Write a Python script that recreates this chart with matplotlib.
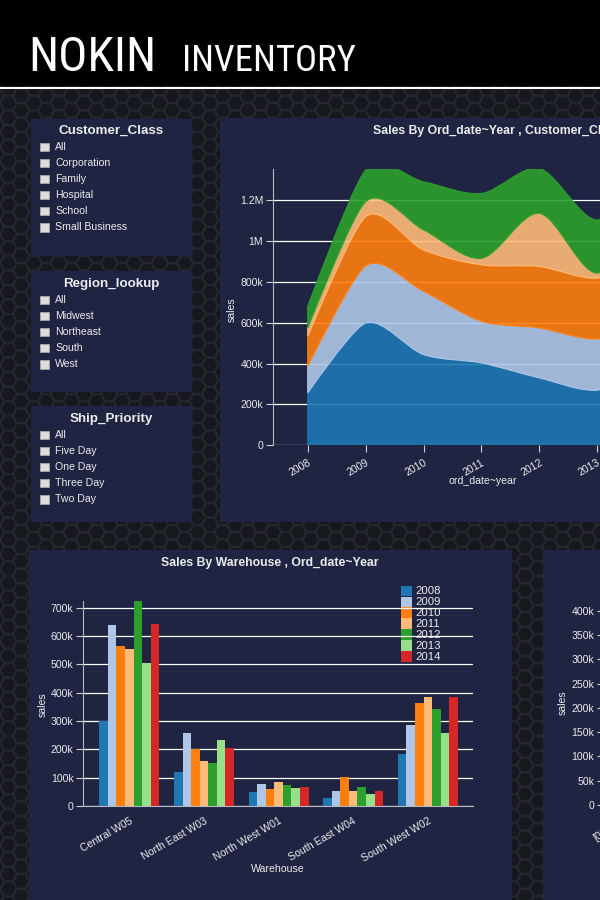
import numpy as np
import matplotlib
matplotlib.use("Agg")
import matplotlib.pyplot as plt
from matplotlib.patches import Rectangle, PathPatch
from matplotlib.path import Path
from matplotlib.collections import PolyCollection
from matplotlib import font_manager as fm
from matplotlib.ticker import FuncFormatter, FixedLocator

# ------------------------------------------------------------------ data
years = [2008, 2009, 2010, 2011, 2012, 2013, 2014]

customer_classes = ["Corporation", "Family", "Hospital", "School", "Small Business"]
# sales per year (thousands) by customer class, stacked area chart
sales_corporation = [257, 598, 444, 403, 330, 270, 380]
sales_family = [130, 280, 309, 204, 244, 250, 220]
sales_hospital = [146, 241, 203, 276, 301, 298, 320]
sales_school = [41, 73, 98, 32, 260, 24, 230]
sales_small_business = [106, 154, 235, 317, 219, 260, 203]

warehouses = ["Central W05", "North East W03", "North West W01",
              "South East W04", "South West W02"]
# sales per warehouse (thousands), one list per year
wh_2008 = [300, 121, 49, 29, 185]
wh_2009 = [639, 259, 78, 54, 286]
wh_2010 = [565, 200, 61, 104, 365]
wh_2011 = [553, 159, 86, 54, 385]
wh_2012 = [724, 153, 74, 68, 344]
wh_2013 = [504, 233, 65, 42, 259]
wh_2014 = [642, 204, 68, 53, 386]

filter_customer_class = ["All", "Corporation", "Family", "Hospital", "School", "Small Business"]
filter_region = ["All", "Midwest", "Northeast", "South", "West"]
filter_ship_priority = ["All", "Five Day", "One Day", "Three Day", "Two Day"]

area_ticks = [0, 200000, 400000, 600000, 800000, 1000000, 1200000]
bar_ticks = [0, 100000, 200000, 300000, 400000, 500000, 600000, 700000]
right_ticks = [0, 50000, 100000, 150000, 200000, 250000, 300000, 350000, 400000]

palette = ["#1f77b4", "#aec7e8", "#ff7f0e", "#ffbb78", "#2ca02c", "#98df8a", "#d62728"]

# ------------------------------------------------------------------ setup
W, H = 600, 900
plt.rcParams['font.family'] = ['Liberation Sans', 'DejaVu Sans']
fig = plt.figure(figsize=(W / 100, H / 100), dpi=100)
fig.patch.set_facecolor("#18191f")

TXT = "#ececec"
PANEL = "#1e2442"


def rect(l, t, r, b):
    return [l / W, 1 - b / H, (r - l) / W, (b - t) / H]


def pick_condensed():
    best = None
    for f in fm.fontManager.ttflist:
        nm = f.name
        st = str(f.stretch)
        cond = ("Condensed" in nm or "Narrow" in nm or "condensed" in st)
        if not cond or f.style != "normal":
            continue
        w = f.weight if isinstance(f.weight, int) else {"normal": 400, "regular": 400, "bold": 700,
                                                        "light": 300, "medium": 500}.get(str(f.weight), 400)
        score = 0
        if "Roboto" in nm:
            score += 30
        elif "Open Sans" in nm:
            score += 20
        elif "Narrow" in nm:
            score += 15
        score -= abs(w - 450) / 50
        if best is None or score > best[0]:
            best = (score, f.fname)
    if best:
        return fm.FontProperties(fname=best[1])
    return fm.FontProperties(family="DejaVu Sans")


# background axes in pixel coordinates
bg = fig.add_axes([0, 0, 1, 1], zorder=-5)
bg.set_xlim(0, W)
bg.set_ylim(H, 0)
bg.axis("off")

# honeycomb texture
r = 8.4
hexes = []
ang = np.deg2rad(np.arange(0, 360, 60))
dx = 1.5 * r
dy = np.sqrt(3) * r
for ci in range(int(W / dx) + 3):
    cx = ci * dx - 4
    off = (dy / 2) if ci % 2 else 0
    for ri in range(int(H / dy) + 3):
        cy = ri * dy + off - 6
        hexes.append(np.column_stack([cx + r * np.cos(ang), cy + r * np.sin(ang)]))
bg.add_collection(PolyCollection(hexes, facecolor="#17181d", edgecolor="#25272f", linewidth=1.6))

# header
bg.add_patch(Rectangle((0, 0), W, 86, facecolor="black", edgecolor="none", zorder=3))
bg.add_patch(Rectangle((0, 86.5), W, 2.5, facecolor="white", edgecolor="none", zorder=3))
cf = pick_condensed()
bg.text(28, 71, "NOKIN", fontproperties=cf, fontsize=35, color="white", va="baseline", ha="left", zorder=4)
bg.text(182, 71, "INVENTORY", fontproperties=cf, fontsize=26.5, color="white", va="baseline", ha="left", zorder=4)

# panels
for (l, t, rr, b) in [(31, 119, 192, 256), (31, 271, 192, 392), (31, 406, 192, 522),
                      (220, 118, 620, 522), (29, 550, 512, 920), (543, 550, 620, 920)]:
    bg.add_patch(Rectangle((l, t), rr - l, b - t, facecolor=PANEL, edgecolor="none", zorder=2))

# filter boxes
for title, items, ty in [("Customer_Class", filter_customer_class, 131),
                         ("Region_lookup", filter_region, 284),
                         ("Ship_Priority", filter_ship_priority, 419)]:
    bg.text(111, ty, title, fontsize=9.6, fontweight="bold", color=TXT, ha="center", va="center", zorder=4)
    for k, it in enumerate(items):
        yy = ty + 16 + k * 16.1
        bg.add_patch(Rectangle((40, yy - 4.5), 8.6, 8.6, facecolor="#dcdcdc", edgecolor="#a8a8a8",
                               linewidth=0.6, zorder=4))
        bg.text(55, yy, it, fontsize=7.6, color=TXT, ha="left", va="center", zorder=4)

# titles and labels
bg.text(373, 131, "Sales By Ord_date~Year , Customer_Class", fontsize=8.8, fontweight="bold",
        color=TXT, ha="left", va="center", zorder=4)
bg.text(483, 481, "ord_date~year", fontsize=7.6, color=TXT, ha="center", va="center", zorder=4)
bg.text(232, 310, "sales", fontsize=7.6, color=TXT, ha="center", va="center", rotation=90, zorder=4)
bg.text(270, 563, "Sales By Warehouse , Ord_date~Year", fontsize=8.8, fontweight="bold",
        color=TXT, ha="center", va="center", zorder=4)
bg.text(278, 869, "Warehouse", fontsize=7.6, color=TXT, ha="center", va="center", zorder=4)
bg.text(43, 705, "sales", fontsize=7.6, color=TXT, ha="center", va="center", rotation=90, zorder=4)
bg.text(563, 703, "sales", fontsize=7.6, color=TXT, ha="center", va="center", rotation=90, zorder=4)


def kfmt(v, pos=None):
    if v >= 1e6:
        return f"{v / 1e6:g}M"
    if v >= 1e3:
        return f"{v / 1e3:g}k"
    return "0"


def style_axes(ax):
    ax.set_facecolor("none")
    for s in ["top", "right"]:
        ax.spines[s].set_visible(False)
    ax.spines["left"].set_color("#b8b8c0")
    ax.spines["bottom"].set_color("#b8b8c0")
    ax.tick_params(colors="#d0d0d0", labelcolor=TXT, labelsize=7.6, length=5, width=0.8, pad=2)


def cardinal_segments(xs, ys, a=0.15):
    pts = np.column_stack([xs, ys]).astype(float)
    n = len(pts)
    t = [a * (pts[i + 1] - pts[i - 1]) for i in range(1, n - 1)]
    verts = [pts[0]]
    codes = [Path.MOVETO]
    verts += [pts[1] - t[0] * 2 / 3, pts[1]]
    codes += [Path.CURVE3, Path.CURVE3]
    for i in range(1, n - 2):
        verts += [pts[i] + t[i - 1], pts[i + 1] - t[i], pts[i + 1]]
        codes += [Path.CURVE4] * 3
    verts += [pts[n - 2] + t[-1] * 2 / 3, pts[n - 1]]
    codes += [Path.CURVE3, Path.CURVE3]
    return verts, codes


# ------------------------------------------------------------------ stacked area chart
px_per_year = 57.9
x0, x1 = 2007.4, 2014.4
ymax_a = 1354000
axA = fig.add_axes(rect(273, 445.3 - ymax_a / 1e6 * 204.4, 273 + (x1 - x0) * px_per_year, 445.3))
style_axes(axA)
axA.set_xlim(x0, x1)
axA.set_ylim(0, ymax_a)
axA.yaxis.set_major_locator(FixedLocator(area_ticks))
axA.yaxis.set_major_formatter(FuncFormatter(kfmt))
axA.set_xticks(years)
axA.set_xticklabels([str(y) for y in years], rotation=30, ha="right", rotation_mode="anchor")
axA.tick_params(axis="x", pad=4)
axA.spines["bottom"].set_visible(False)
axA.grid(axis="y", color="white", linewidth=0.9, zorder=0)
axA.set_axisbelow(True)

layers = [sales_corporation, sales_family, sales_hospital, sales_school, sales_small_business]
base = np.zeros(len(years))
xs = np.array(years, dtype=float)
for i, lay in enumerate(layers):
    top = base + np.array(lay) * 1000
    tv, tc = cardinal_segments(xs, top)
    bv, bc = cardinal_segments(xs[::-1], base[::-1])
    verts = tv + [bv[0]] + bv[1:] + [tv[0]]
    codes = tc + [Path.LINETO] + bc[1:] + [Path.CLOSEPOLY]
    col = matplotlib.colors.to_rgba(palette[i])
    axA.add_patch(PathPatch(Path(verts, codes), facecolor=(col[0], col[1], col[2], 0.9),
                            edgecolor=palette[i], linewidth=0.8, zorder=2))
    base = top

# ------------------------------------------------------------------ grouped bar chart
per_100k = 28.33
ymax_b = 724000
bx0, bx1 = -0.616, 4.605
axB = fig.add_axes(rect(83.3, 806 - ymax_b / 1e5 * per_100k, 473, 806))
style_axes(axB)
axB.set_xlim(bx0, bx1)
axB.set_ylim(0, ymax_b)
axB.yaxis.set_major_locator(FixedLocator(bar_ticks))
axB.yaxis.set_major_formatter(FuncFormatter(kfmt))
axB.grid(axis="y", color="white", linewidth=0.9, zorder=0)
axB.set_axisbelow(True)
gx = np.arange(len(warehouses))
axB.set_xticks(gx)
axB.set_xticklabels(warehouses, rotation=30, ha="right", rotation_mode="anchor")
axB.tick_params(axis="x", length=0, pad=7)
bw = 0.1147
series = [wh_2008, wh_2009, wh_2010, wh_2011, wh_2012, wh_2013, wh_2014]
for i, (yr, vals) in enumerate(zip(years, series)):
    axB.bar(gx + (i - 3) * bw, np.array(vals) * 1000, width=bw, color=palette[i],
            edgecolor="none", zorder=2, label=str(yr))

# legend (drawn from the series list)
for i, yr in enumerate(years):
    cy = 591 + i * 10.9
    bg.add_patch(Rectangle((401, cy - 5.4), 10.6, 10.6, facecolor=palette[i], edgecolor="none", zorder=6))
    bg.text(415.5, cy + 0.3, str(yr), fontsize=8.2, color=TXT, ha="left", va="center", zorder=7)

# ------------------------------------------------------------------ third chart (cropped)
ymax_r = 420000
axR = fig.add_axes(rect(604, 805 - ymax_r / 50000 * 24.3, 904, 805))
style_axes(axR)
axR.spines["bottom"].set_visible(False)
axR.set_ylim(0, ymax_r)
axR.set_xlim(-0.05, 1)
axR.yaxis.set_major_locator(FixedLocator(right_ticks))
axR.yaxis.set_major_formatter(FuncFormatter(kfmt))
axR.set_xticks([0])
axR.set_xticklabels(["[01-10)"], rotation=35, ha="right", rotation_mode="anchor")
axR.tick_params(axis="x", length=0, pad=8)

fig.savefig("out.png", dpi=100, facecolor=fig.get_facecolor())
